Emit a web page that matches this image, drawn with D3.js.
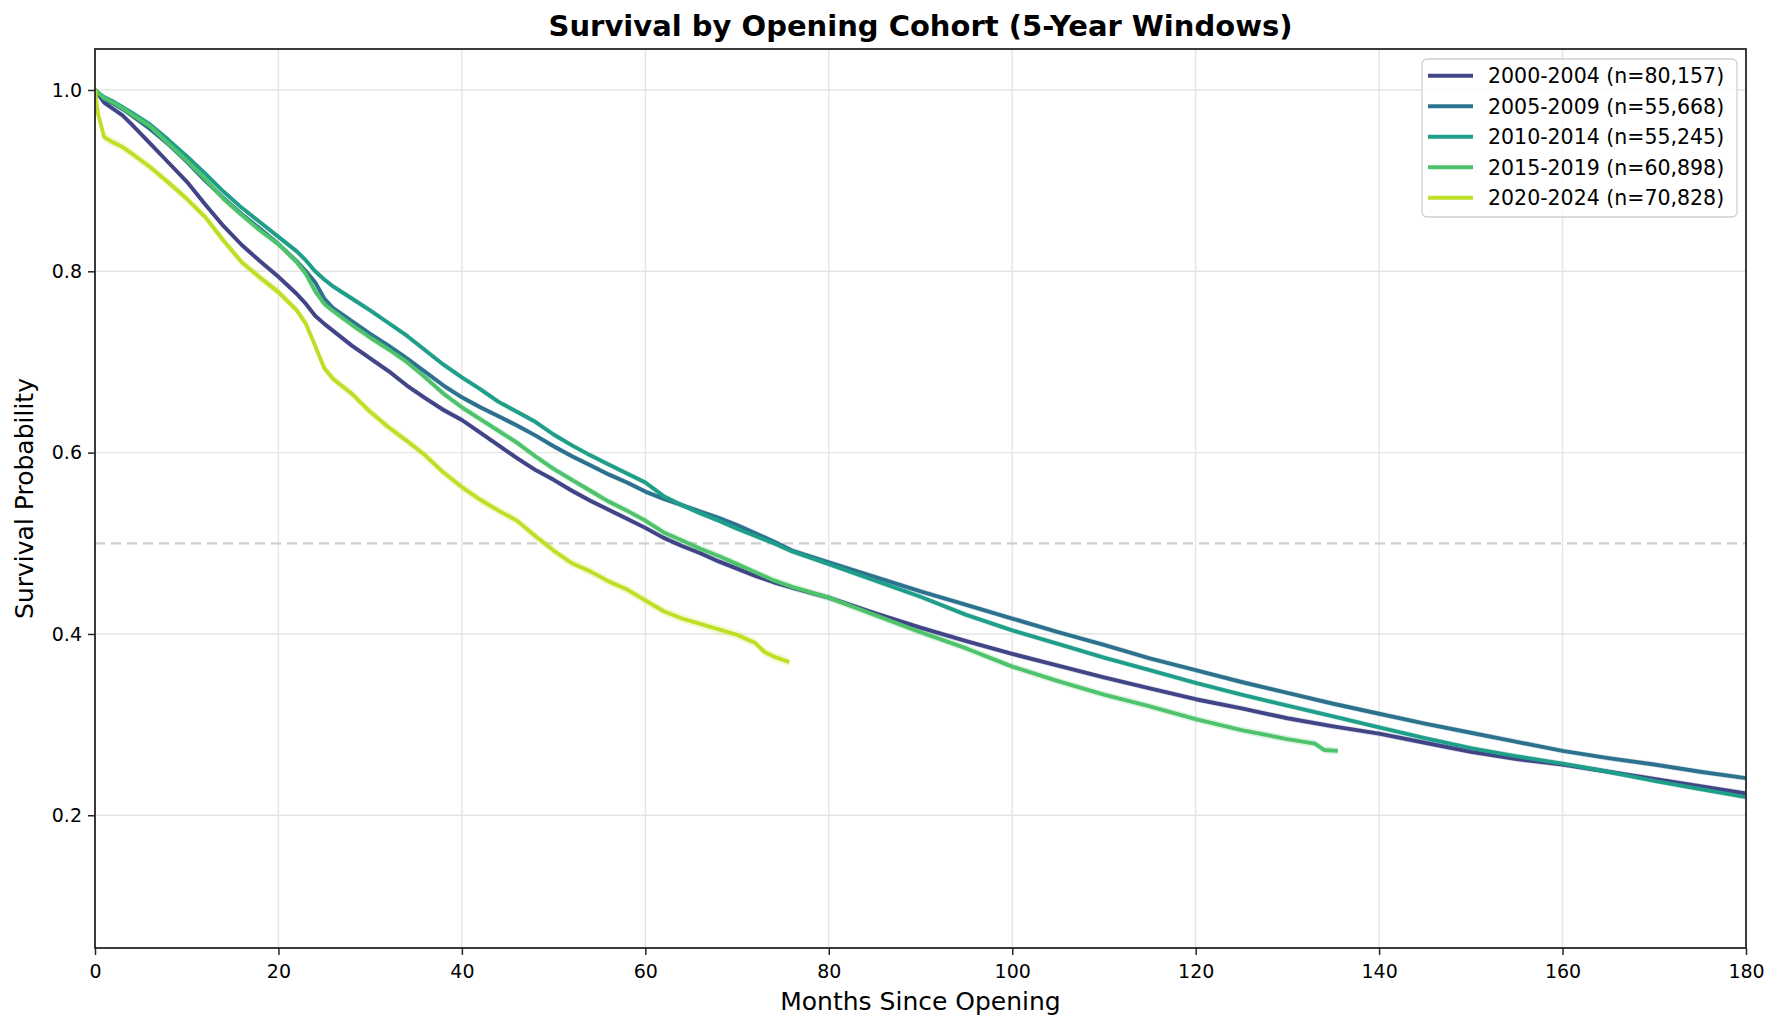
<!DOCTYPE html>
<html>
<head>
<meta charset="utf-8">
<script src="https://cdn.jsdelivr.net/npm/d3@7"></script>
<style>
  html, body { margin: 0; padding: 0; background: #fff; }
  svg { display: block; font-family: "DejaVu Sans", sans-serif; }
</style>
</head>
<body>
<svg id="chart" width="1782" height="1030"></svg>
<script>
// ---------------- DATA ----------------
const cohortLabels = ["2000-2004 (n=80,157)", "2005-2009 (n=55,668)", "2010-2014 (n=55,245)", "2015-2019 (n=60,898)", "2020-2024 (n=70,828)"];
const cohortColors = ["#414487", "#2c728e", "#1f9e89", "#4ec36b", "#bddf26"];

const monthsLong = [0,1,2,3,4,6,8,10,12,14,16,18,20,22,23,24,25,26,28,30,32,34,36,38,40,42,44,46,48,50,52,54,56,58,60,62,64,66,68,70,72,74,76,80,85,90,95,100,105,110,115,120,125,130,135,140,145,150,155,160,165,170,175,180];

const surv2000 = [1.000,0.986,0.979,0.972,0.962,0.941,0.920,0.899,0.874,0.850,0.829,0.811,0.794,0.775,0.764,0.751,0.742,0.734,0.718,0.704,0.690,0.674,0.660,0.647,0.636,0.622,0.608,0.594,0.581,0.570,0.558,0.547,0.537,0.527,0.517,0.506,0.497,0.489,0.480,0.472,0.464,0.457,0.451,0.440,0.423,0.407,0.392,0.378,0.365,0.352,0.340,0.328,0.318,0.307,0.298,0.290,0.280,0.270,0.262,0.256,0.248,0.240,0.232,0.224];

const surv2005 = [1.000,0.990,0.985,0.979,0.972,0.957,0.940,0.921,0.900,0.881,0.863,0.847,0.830,0.811,0.800,0.788,0.770,0.759,0.745,0.731,0.718,0.704,0.689,0.674,0.661,0.650,0.640,0.630,0.619,0.607,0.596,0.586,0.576,0.567,0.557,0.549,0.542,0.535,0.528,0.520,0.511,0.502,0.492,0.479,0.463,0.447,0.432,0.417,0.402,0.388,0.373,0.360,0.347,0.335,0.323,0.312,0.301,0.291,0.281,0.271,0.263,0.256,0.248,0.241];

const surv2010 = [1.000,0.992,0.987,0.981,0.975,0.962,0.945,0.927,0.908,0.888,0.870,0.854,0.838,0.822,0.812,0.800,0.791,0.783,0.770,0.757,0.743,0.729,0.713,0.697,0.683,0.670,0.656,0.645,0.634,0.620,0.608,0.597,0.587,0.577,0.567,0.552,0.542,0.533,0.525,0.516,0.508,0.500,0.491,0.477,0.459,0.441,0.421,0.404,0.389,0.374,0.360,0.346,0.333,0.321,0.309,0.297,0.285,0.274,0.265,0.257,0.248,0.238,0.229,0.220];

const months2015 = [0,1,2,3,4,6,8,10,12,14,16,18,20,22,23,24,25,26,28,30,32,34,36,38,40,42,44,46,48,50,52,54,56,58,60,62,64,66,68,70,72,74,76,80,85,90,95,100,105,110,115,120,125,130,133,134,135.5];
const surv2015 = [1.000,0.991,0.986,0.980,0.973,0.960,0.941,0.922,0.902,0.880,0.862,0.845,0.830,0.810,0.797,0.778,0.764,0.756,0.741,0.727,0.714,0.700,0.683,0.665,0.650,0.637,0.624,0.611,0.596,0.582,0.570,0.558,0.546,0.536,0.525,0.512,0.503,0.494,0.486,0.477,0.468,0.459,0.452,0.440,0.421,0.402,0.384,0.364,0.348,0.333,0.320,0.306,0.294,0.284,0.279,0.272,0.271];

const months2020 = [0,0.3,1,2,3,4,6,8,10,12,14,16,18,20,22,23,24,25,26,28,30,32,34,36,38,40,42,44,46,48,50,52,54,56,58,60,62,64,66,68,70,72,73,74,75.7];
const surv2020 = [1.000,0.975,0.948,0.942,0.937,0.930,0.915,0.898,0.880,0.860,0.834,0.810,0.793,0.777,0.757,0.742,0.718,0.693,0.681,0.665,0.645,0.628,0.613,0.597,0.578,0.562,0.548,0.536,0.525,0.508,0.492,0.478,0.469,0.458,0.449,0.437,0.425,0.417,0.411,0.405,0.399,0.390,0.380,0.375,0.369];

const ciHalf2000 = 0.003, ciHalf2005 = 0.003, ciHalf2010 = 0.003, ciHalf2015 = 0.004, ciHalf2020 = 0.005;

const xTicks = [0,20,40,60,80,100,120,140,160,180];
const yTicks = [0.2,0.4,0.6,0.8,1.0];
const medianLine = 0.5;

const series = [
  {label: cohortLabels[0], color: cohortColors[0], months: monthsLong, surv: surv2000, ci: ciHalf2000},
  {label: cohortLabels[1], color: cohortColors[1], months: monthsLong, surv: surv2005, ci: ciHalf2005},
  {label: cohortLabels[2], color: cohortColors[2], months: monthsLong, surv: surv2010, ci: ciHalf2010},
  {label: cohortLabels[3], color: cohortColors[3], months: months2015, surv: surv2015, ci: ciHalf2015},
  {label: cohortLabels[4], color: cohortColors[4], months: months2020, surv: surv2020, ci: ciHalf2020}
];

// ---------------- LAYOUT ----------------
const W = 1782, H = 1030;
const margin = {left: 95, right: 36, top: 49, bottom: 82};
const iw = W - margin.left - margin.right;
const ih = H - margin.top - margin.bottom;

const svg = d3.select("#chart");
const x = d3.scaleLinear().domain([0, 180]).range([0, iw]);
const y = d3.scaleLinear().domain([0.0536, 1.0452]).range([ih, 0]);

const g = svg.append("g").attr("transform", `translate(${margin.left},${margin.top})`);

// grid
g.append("g").selectAll("line").data(xTicks).join("line")
  .attr("x1", d => x(d)).attr("x2", d => x(d)).attr("y1", 0).attr("y2", ih)
  .attr("stroke", "#e5e5e5").attr("stroke-width", 1.4);
g.append("g").selectAll("line").data(yTicks).join("line")
  .attr("x1", 0).attr("x2", iw).attr("y1", d => y(d)).attr("y2", d => y(d))
  .attr("stroke", "#e5e5e5").attr("stroke-width", 1.4);

// median dashed line
g.append("line")
  .attr("x1", 0).attr("x2", iw).attr("y1", y(medianLine)).attr("y2", y(medianLine))
  .attr("stroke", "#cfcfcf").attr("stroke-width", 2.2).attr("stroke-dasharray", "10,6");

// clip
svg.append("defs").append("clipPath").attr("id", "clip")
  .append("rect").attr("x", 0).attr("y", 0).attr("width", iw).attr("height", ih);

const plot = g.append("g").attr("clip-path", "url(#clip)");

const area = d3.area()
  .x(d => x(d[0])).y0(d => y(d[1] - d[2])).y1(d => y(d[1] + d[2]));
const line = d3.line().x(d => x(d[0])).y(d => y(d[1]));

series.forEach(s => {
  const pts = s.months.map((m, i) => [m, s.surv[i], i === 0 ? 0 : s.ci]);
  plot.append("path").datum(pts).attr("d", area)
    .attr("fill", s.color).attr("fill-opacity", 0.2).attr("stroke", "none");
});
series.forEach(s => {
  const pts = s.months.map((m, i) => [m, s.surv[i]]);
  plot.append("path").datum(pts).attr("d", line)
    .attr("fill", "none").attr("stroke", s.color).attr("stroke-width", 3.9)
    .attr("stroke-linejoin", "round");
});

// axes
const xAxis = d3.axisBottom(x).tickValues(xTicks).tickSize(7).tickPadding(6).tickFormat(d3.format("d"));
const yAxis = d3.axisLeft(y).tickValues(yTicks).tickSize(7).tickPadding(6).tickFormat(d3.format(".1f"));

const gx = g.append("g").attr("transform", `translate(0,${ih})`).call(xAxis);
const gy = g.append("g").call(yAxis);
[gx, gy].forEach(a => {
  a.select(".domain").remove();
  a.selectAll(".tick line").attr("stroke", "#262626").attr("stroke-width", 1.5);
  a.selectAll(".tick text").attr("fill", "#000").style("font-size", "19px").style("font-family", "DejaVu Sans");
});
gx.selectAll(".tick text").attr("dy", "0.9em");

// frame
g.append("rect").attr("x", 0).attr("y", 0).attr("width", iw).attr("height", ih)
  .attr("fill", "none").attr("stroke", "#262626").attr("stroke-width", 1.8);

// labels
svg.append("text").attr("x", margin.left + iw / 2).attr("y", 1010)
  .attr("text-anchor", "middle").style("font-size", "25px").attr("fill", "#000")
  .text("Months Since Opening");
svg.append("text")
  .attr("transform", `translate(33,${margin.top + ih / 2}) rotate(-90)`)
  .attr("text-anchor", "middle").style("font-size", "25px").attr("fill", "#000")
  .text("Survival Probability");
svg.append("text").attr("x", margin.left + iw / 2).attr("y", 36)
  .attr("text-anchor", "middle").style("font-size", "29px").style("font-weight", "bold").attr("fill", "#000")
  .text("Survival by Opening Cohort (5-Year Windows)");

// legend
const lg = svg.append("g").attr("transform", "translate(1422,59)");
lg.append("rect").attr("x", 0).attr("y", 0).attr("width", 315).attr("height", 158)
  .attr("rx", 5).attr("ry", 5).attr("fill", "#fff").attr("fill-opacity", 0.8)
  .attr("stroke", "#d0d0d0").attr("stroke-width", 1.3);
series.forEach((s, i) => {
  const cy = 16.7 + i * 30.5;
  lg.append("line").attr("x1", 6).attr("x2", 51).attr("y1", cy).attr("y2", cy)
    .attr("stroke", s.color).attr("stroke-width", 3.9);
  lg.append("text").attr("x", 66).attr("y", cy).attr("dy", "0.36em")
    .style("font-size", "20.5px").attr("fill", "#000").text(s.label);
});
</script>
</body>
</html>
